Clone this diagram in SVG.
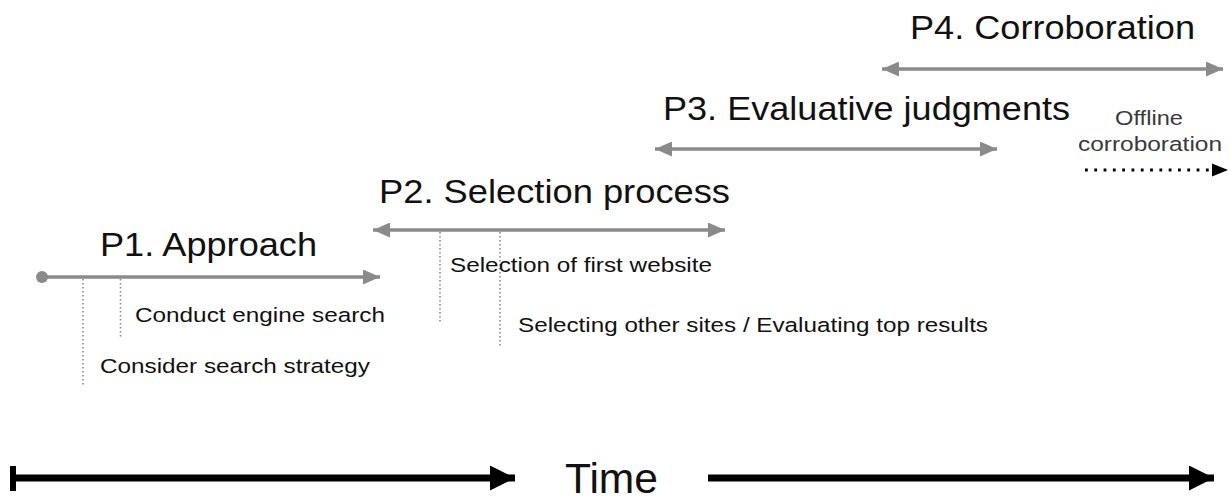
<svg xmlns="http://www.w3.org/2000/svg" width="1231" height="500" viewBox="0 0 1231 500">
  <defs>
    <style>
      .phase { font-family: "Liberation Sans", Arial, sans-serif; font-size: 34px; fill: #111; }
      .step { font-family: "Liberation Sans", Arial, sans-serif; font-size: 20.5px; fill: #111; }
      .note { font-family: "Liberation Sans", Arial, sans-serif; font-size: 20.5px; fill: #3a3a3a; }
      .time { font-family: "Liberation Sans", Arial, sans-serif; font-size: 42px; fill: #111; }
      .span { stroke: #8a8a8a; stroke-width: 3.5; fill: none; }
      .tick { stroke: #8a8a8a; stroke-width: 1.6; stroke-dasharray: 1.6 2.4; fill: none; }
      .axis { stroke: #000; stroke-width: 7; fill: none; }
    </style>
    <marker id="grayHead" viewBox="0 0 17 15" refX="17" refY="7.5" markerWidth="17" markerHeight="15" markerUnits="userSpaceOnUse" orient="auto-start-reverse">
      <path d="M0,0 L17,7.5 L0,15 Z" fill="#8a8a8a"/>
    </marker>
    <marker id="blackHead" viewBox="0 0 25 25" refX="25" refY="12.5" markerWidth="25" markerHeight="25" markerUnits="userSpaceOnUse" orient="auto">
      <path d="M0,0 L25,12.5 L0,25 Z" fill="#000"/>
    </marker>
  </defs>

  <rect width="1231" height="500" fill="#fff"/>

  <!-- phase spans, step ticks and the time axis -->
  <g id="connectors">
    <circle cx="42" cy="277" r="6" fill="#8a8a8a"/>
    <line class="span" x1="42" y1="277" x2="380" y2="277" marker-end="url(#grayHead)"/>
    <line class="span" x1="373" y1="230" x2="725" y2="230" marker-start="url(#grayHead)" marker-end="url(#grayHead)"/>
    <line class="span" x1="655" y1="149" x2="997" y2="149" marker-start="url(#grayHead)" marker-end="url(#grayHead)"/>
    <line class="span" x1="882" y1="69" x2="1223" y2="69" marker-start="url(#grayHead)" marker-end="url(#grayHead)"/>

    <line class="tick" x1="83" y1="279" x2="83" y2="385"/>
    <line class="tick" x1="120.5" y1="279" x2="120.5" y2="337"/>
    <line class="tick" x1="440" y1="232" x2="440" y2="324"/>
    <line class="tick" x1="500" y1="232" x2="500" y2="348"/>

    <!-- offline corroboration: dotted run ending in a small solid head -->
    <line x1="1085" y1="170" x2="1212" y2="170" stroke="#000" stroke-width="2.8" stroke-dasharray="2.8 6.5"/>
    <path d="M1212,163.5 L1228,170 L1212,176.5 Z" fill="#000"/>

    <line x1="13" y1="466" x2="13" y2="491" stroke="#000" stroke-width="6"/>
    <line class="axis" x1="13" y1="478" x2="515" y2="478" marker-end="url(#blackHead)"/>
    <line class="axis" x1="708" y1="478" x2="1214" y2="478" marker-end="url(#blackHead)"/>
  </g>

  <g id="p1">
    <text class="phase" x="100" y="256" textLength="217" lengthAdjust="spacingAndGlyphs">P1. Approach</text>
  </g>
  <g id="p2">
    <text class="phase" x="379" y="203" textLength="351" lengthAdjust="spacingAndGlyphs">P2. Selection process</text>
  </g>
  <g id="p3">
    <text class="phase" x="663" y="120" textLength="407" lengthAdjust="spacingAndGlyphs">P3. Evaluative judgments</text>
  </g>
  <g id="p4">
    <text class="phase" x="910" y="39" textLength="285" lengthAdjust="spacingAndGlyphs">P4. Corroboration</text>
  </g>

  <g id="step-conduct">
    <text class="step" x="135" y="322" textLength="250" lengthAdjust="spacingAndGlyphs">Conduct engine search</text>
  </g>
  <g id="step-consider">
    <text class="step" x="100" y="373" textLength="270" lengthAdjust="spacingAndGlyphs">Consider search strategy</text>
  </g>
  <g id="step-first">
    <text class="step" x="450" y="272" textLength="262" lengthAdjust="spacingAndGlyphs">Selection of first website</text>
  </g>
  <g id="step-others">
    <text class="step" x="518" y="332" textLength="470" lengthAdjust="spacingAndGlyphs">Selecting other sites / Evaluating top results</text>
  </g>

  <g id="offline">
    <text class="note" x="1115" y="125" textLength="68" lengthAdjust="spacingAndGlyphs">Offline</text>
    <text class="note" x="1078" y="151" textLength="144" lengthAdjust="spacingAndGlyphs">corroboration</text>
  </g>

  <g id="time">
    <text class="time" x="565" y="493" textLength="93" lengthAdjust="spacingAndGlyphs">Time</text>
  </g>
</svg>
